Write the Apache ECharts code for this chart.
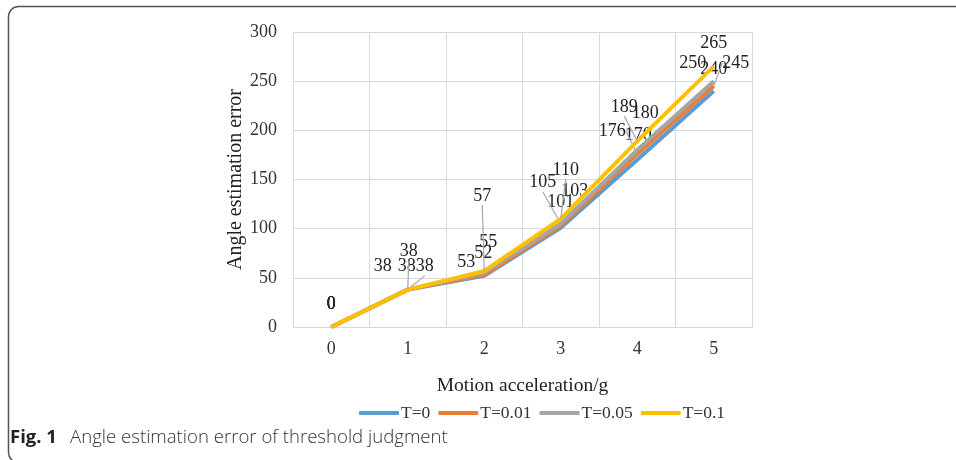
<!DOCTYPE html>
<html>
<head>
	<meta charset="utf-8">
	<title>Angle estimation error</title>
	<style type="text/css">
		body{ margin: 0px; background: #fff; }
		.chart{ width: 956px; height: 460px; }
	</style>
	<script type="text/javascript" src="https://cdn.jsdelivr.net/npm/echarts@6/dist/echarts.min.js"></script>
</head>
<body>
	<div id="chart" class="chart"></div>
	<script type="text/javascript">
		var categories = ['0', '1', '2', '3', '4', '5'];
		var seriesNames = ['T=0', 'T=0.01', 'T=0.05', 'T=0.1'];
		var t0 = [0, 38, 52, 101, 170, 240];
		var t001 = [0, 38, 53, 103, 176, 245];
		var t005 = [0, 38, 55, 105, 180, 250];
		var t01 = [0, 38, 57, 110, 189, 265];
		var values = [t0, t001, t005, t01];

		var colors = ['#5B9BD5', '#ED7D31', '#A5A5A5', '#FFC000'];
		var serif = '"Liberation Serif", "DejaVu Serif", serif';

		// where each data label sits, relative to its point (Excel callouts)
		var labelShift = [
			[[0, -23], [17, -23], [-1, -23], [0, -25], [1, -25], [0, -22]],
			[[0, -23], [-1, -23], [-18, -13], [14, -34], [-25, -23], [22, -23]],
			[[0, -23], [-25, -23], [4, -31], [-18, -41], [8, -37], [-21, -18]],
			[[0, -23], [1, -38], [-2, -75], [5, -49], [-13, -34], [0, -23]]
		];
		var leader = [
			[false, true, false, false, false, false],
			[false, false, false, false, true, true],
			[false, false, false, true, false, false],
			[false, true, true, true, true, false]
		];

		var chart = echarts.init(document.getElementById('chart'));
		chart.setOption({
			animation: false,
			color: colors,
			grid: { left: 293, right: 204, top: 32, bottom: 133 },
			legend: {
				data: seriesNames,
				left: 354,
				top: 399,
				itemWidth: 40,
				itemHeight: 4,
				itemGap: 8,
				icon: 'roundRect',
				textStyle: { fontFamily: serif, fontSize: 17.5, color: '#333', padding: [0, 0, 0, -3] }
			},
			xAxis: {
				type: 'category',
				data: categories,
				boundaryGap: true,
				name: 'Motion acceleration/g',
				nameLocation: 'middle',
				nameGap: 49,
				nameTextStyle: { fontFamily: serif, fontSize: 19.5, color: '#222' },
				axisLine: { lineStyle: { color: '#D9D9D9', width: 1 } },
				axisTick: { show: false },
				axisLabel: { fontFamily: serif, fontSize: 18, color: '#333', margin: 13 },
				splitLine: { show: true, lineStyle: { color: '#D9D9D9' } }
			},
			yAxis: {
				type: 'value',
				min: 0,
				max: 300,
				interval: 50,
				name: 'Angle estimation error',
				nameLocation: 'middle',
				nameGap: 47,
				nameTextStyle: { fontFamily: serif, fontSize: 20, color: '#222' },
				axisLine: { show: false },
				axisTick: { show: false },
				axisLabel: { fontFamily: serif, fontSize: 18, color: '#333', margin: 16 },
				splitLine: { lineStyle: { color: '#D9D9D9' } }
			},
			series: values.map(function(vals, s){
				return {
					name: seriesNames[s],
					type: 'line',
					symbol: 'circle',
					symbolSize: 1,
					lineStyle: { width: 4, color: colors[s] },
					z: 2 + s,
					label: {
						show: true,
						position: 'inside',
						fontFamily: serif,
						fontSize: 18,
						color: '#222'
					},
					labelLine: {
						show: true,
						lineStyle: { color: '#A6A6A6', width: 1.2 }
					},
					labelLayout: function(p){
						var d = labelShift[p.seriesIndex][p.dataIndex];
						return { dx: d[0], dy: d[1] };
					},
					data: vals.map(function(v, i){
						return { value: v, labelLine: { show: leader[s][i] } };
					})
				};
			}),
			graphic: [
				{
					type: 'rect',
					shape: { x: 8.5, y: 6.5, width: 1000, height: 456, r: 10 },
					style: { fill: 'none', stroke: '#555', lineWidth: 1.5 },
					silent: true
				},
				{
					type: 'text',
					left: 10,
					top: 428,
					style: {
						text: 'Fig. 1',
						font: 'bold 18.5px "Open Sans", "Noto Sans", sans-serif',
						fill: '#222'
					}
				},
				{
					type: 'text',
					left: 70,
					top: 428,
					style: {
						text: 'Angle estimation error of threshold judgment',
						font: '300 18.6px "Open Sans", "Noto Sans", sans-serif',
						fill: '#333'
					}
				}
			]
		});
	</script>
</body>
</html>
